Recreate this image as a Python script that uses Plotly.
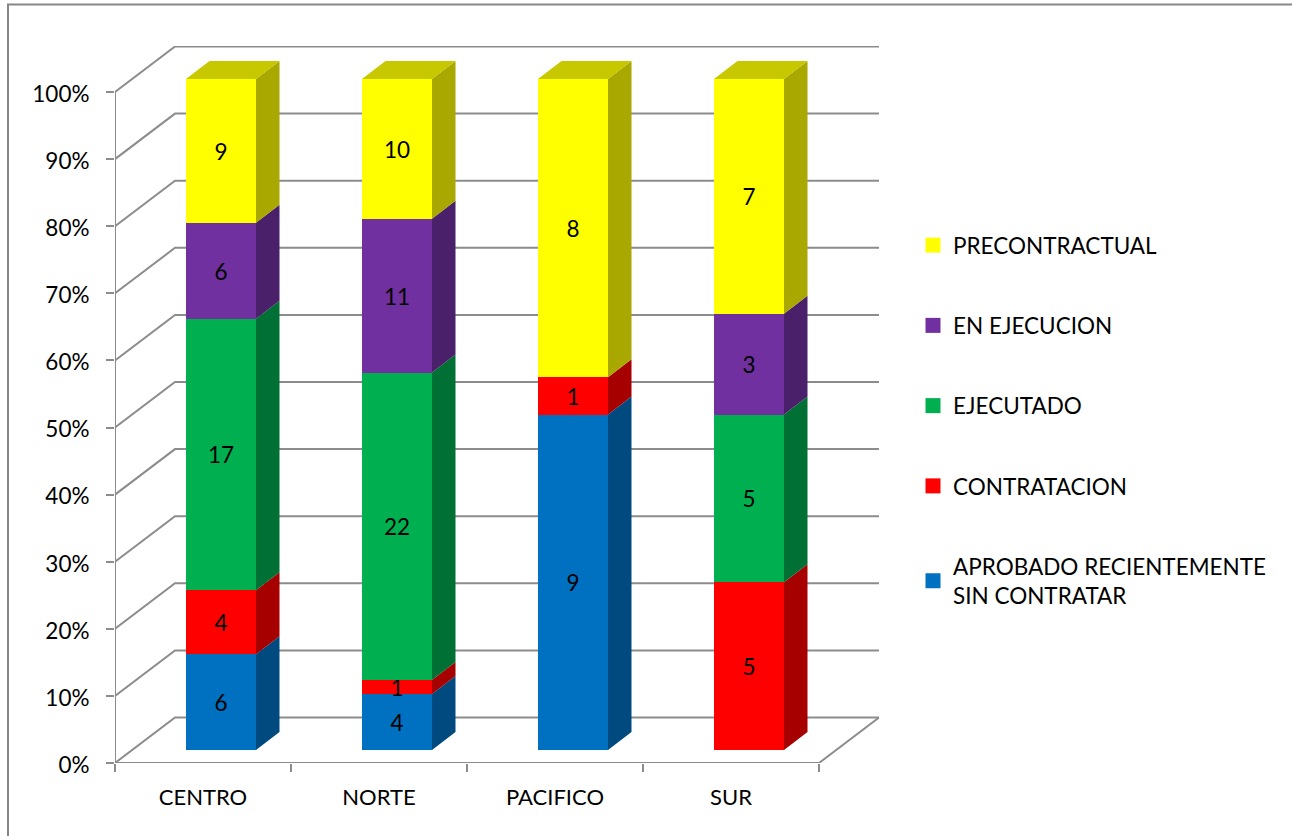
import plotly.graph_objects as go

# ---- data ----
regions = ["CENTRO", "NORTE", "PACIFICO", "SUR"]
aprobado = [6, 4, 9, 0]
contratacion = [4, 1, 1, 5]
ejecutado = [17, 22, 0, 5]
en_ejecucion = [6, 11, 0, 3]
precontractual = [9, 10, 8, 7]
y_ticks = [0, 10, 20, 30, 40, 50, 60, 70, 80, 90, 100]

series = [
    ("APROBADO RECIENTEMENTE<br>SIN CONTRATAR", aprobado, "#0070C0", "#004A80"),
    ("CONTRATACION", contratacion, "#FF0000", "#A60000"),
    ("EJECUTADO", ejecutado, "#00B050", "#007034"),
    ("EN EJECUCION", en_ejecucion, "#7030A0", "#4A206A"),
    ("PRECONTRACTUAL", precontractual, "#FFFF00", "#A8A800"),
]
TOP_COLOR = "#C8C800"
GRID = "#8C8C8C"
FONT = "Lato"
FS = 22
FS_BIG = 22.5

# ---- geometry in axis units ----
L, R, T, B = 115, 879, 46, 763
W, H = 1292, 836
CAT_PX = 176.0
PCT_PX = 6.71
x_lo = -0.5
x_hi = x_lo + (R - L) / CAT_PX
y_hi = (B - T) / PCT_PX
bar_w = 70 / CAT_PX
bar_shift = 18 / CAT_PX
bar_floor = 13 / PCT_PX
depth_x = 23.5 / CAT_PX
depth_y = 18 / PCT_PX
wall_x = 60 / CAT_PX
wall_y = 45.5 / PCT_PX

totals = [sum(s[1][i] for s in series) for i in range(len(regions))]
xs = [i + bar_shift for i in range(len(regions))]

fig = go.Figure()

# front faces and sides
base = [bar_floor] * len(regions)
for name, vals, col, side in series:
    pct = [100 * v / t for v, t in zip(vals, totals)]
    fig.add_bar(
        x=xs, y=pct, base=list(base), width=bar_w, marker=dict(color=col, line_width=0),
        text=[str(v) if v else "" for v in vals], textposition="inside",
        insidetextanchor="middle", textangle=0, constraintext="none",
        insidetextfont=dict(color="black", size=FS_BIG, family=FONT),
        showlegend=False, hoverinfo="skip",
    )
    px, py = [], []
    for x, b, p in zip(xs, base, pct):
        if p == 0:
            continue
        xr = x + bar_w / 2
        px += [xr, xr + depth_x, xr + depth_x, xr, xr, None]
        py += [b, b + depth_y, b + p + depth_y, b + p, b, None]
    fig.add_scatter(x=px, y=py, mode="lines", fill="toself", fillcolor=side,
                    line=dict(width=0, color=side), showlegend=False, hoverinfo="skip")
    base = [b + p for b, p in zip(base, pct)]

# top faces
px, py = [], []
for x, b in zip(xs, base):
    xl, xr = x - bar_w / 2, x + bar_w / 2
    px += [xl, xr, xr + depth_x, xl + depth_x, xl, None]
    py += [b, b, b + depth_y, b + depth_y, b, None]
fig.add_scatter(x=px, y=py, mode="lines", fill="toself", fillcolor=TOP_COLOR,
                line=dict(width=0, color=TOP_COLOR), showlegend=False, hoverinfo="skip")

# legend entries
for name, vals, col, side in reversed(series):
    fig.add_scatter(x=[None], y=[None], mode="markers", name=name, legendgroup=name,
                    marker=dict(symbol="square", size=15, color=col, line_width=0),
                    hoverinfo="skip")

# walls and floor
line = dict(color=GRID, width=2)
shapes = []
for t in y_ticks:
    path = f"M{x_lo},{t} L{x_lo + wall_x},{t + wall_y} L{x_hi},{t + wall_y}"
    shapes.append(dict(type="path", path=path, xref="x", yref="y", line=line, layer="below"))
shapes.append(dict(type="line", x0=x_lo, x1=x_lo, y0=0, y1=100, xref="x", yref="y", line=line, layer="below"))
shapes.append(dict(type="line", x0=x_lo, x1=x_lo + len(regions), y0=0, y1=0, xref="x", yref="y", line=line, layer="below"))
shapes.append(dict(type="line", x0=x_lo + len(regions), x1=x_hi, y0=0, y1=wall_y, xref="x", yref="y", line=line, layer="below"))
# outer chart frame, in paper units
fx = lambda p: (p - L) / (R - L)
fy = lambda p: (B - p) / (B - T)
shapes.append(dict(type="path", xref="paper", yref="paper", layer="below",
                   path=f"M{fx(8)},{fy(H)} L{fx(8)},{fy(4.5)} L{fx(W)},{fy(4.5)}",
                   line=dict(color="#868686", width=2)))

fig.update_layout(
    width=W, height=H, barmode="overlay", bargap=0,
    margin=dict(l=L, r=W - R, t=T, b=H - B),
    paper_bgcolor="white", plot_bgcolor="white",
    font=dict(family=FONT, size=FS, color="black"),
    shapes=shapes,
    xaxis=dict(range=[x_lo, x_hi], tickmode="array", tickvals=list(range(len(regions))),
               ticktext=regions, showgrid=False, zeroline=False, showline=False,
               ticks="", ticklabelstandoff=19,
               minor=dict(tickmode="array", tickvals=[x_lo + i for i in range(len(regions) + 1)],
                          ticks="outside", ticklen=8, tickwidth=2, tickcolor=GRID, showgrid=False)),
    yaxis=dict(range=[0, y_hi], tickmode="array", tickvals=y_ticks,
               ticktext=[f"{t}%" for t in y_ticks], showgrid=False, zeroline=False,
               showline=False, ticks="outside", ticklen=8, tickwidth=2, tickcolor=GRID,
               ticklabelstandoff=12, ticklabelshift=2, tickfont=dict(size=FS_BIG)),
    legend=dict(x=fx(913), xanchor="left", y=fy(224), yanchor="top", traceorder="grouped",
                tracegroupgap=48, font=dict(size=FS_BIG, family=FONT, color="black"),
                bgcolor="rgba(0,0,0,0)", itemclick=False, itemdoubleclick=False),
)

fig.write_html("out.html", post_script="document.body.style.margin='0';",
               config=dict(displayModeBar=False))
